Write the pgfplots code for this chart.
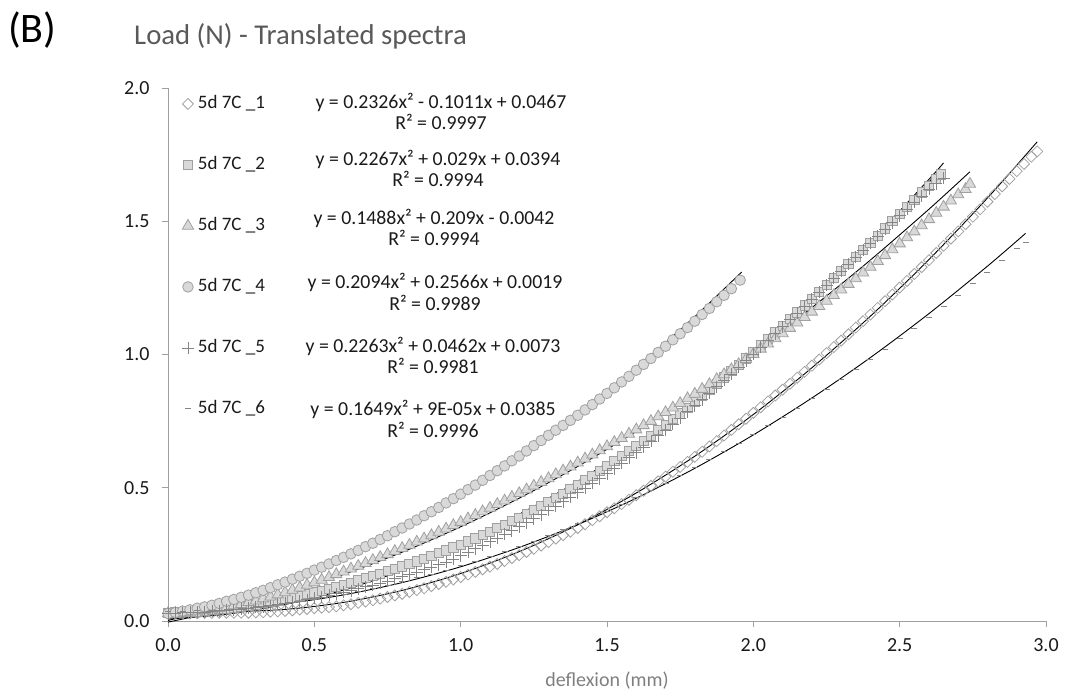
\documentclass[border=0pt]{standalone}
\usepackage{fontspec}
\setmainfont{Carlito}
\usepackage{pgfplots}
\usepackage{pgfplotstable}
\pgfplotsset{compat=1.18}
\definecolor{axgray}{HTML}{A0A0A0}
\definecolor{mkedge}{HTML}{A0A0A0}
\definecolor{mkfill}{HTML}{D9D9D9}
\definecolor{plusgray}{HTML}{858585}
\definecolor{titlegray}{HTML}{595959}
\definecolor{labgray}{HTML}{7F7F7F}
\definecolor{txt}{HTML}{1A1A1A}
\newcommand{\tfont}{\fontsize{19}{22}\selectfont}
\newcommand{\kfont}{\fontsize{20}{23}\selectfont}
\newcommand{\efont}{\fontsize{19.8}{23}\selectfont}

\pgfplotstableread{
x y
0.000 0.029
0.025 0.028
0.050 0.028
0.075 0.028
0.100 0.029
0.125 0.030
0.150 0.030
0.175 0.031
0.200 0.031
0.225 0.031
0.250 0.031
0.275 0.031
0.300 0.032
0.325 0.033
0.350 0.035
0.375 0.036
0.400 0.038
0.425 0.040
0.450 0.043
0.475 0.045
0.500 0.048
0.525 0.050
0.550 0.052
0.575 0.055
0.600 0.059
0.625 0.063
0.650 0.068
0.675 0.073
0.700 0.078
0.725 0.084
0.750 0.090
0.775 0.096
0.800 0.102
0.825 0.109
0.850 0.116
0.875 0.123
0.900 0.131
0.925 0.139
0.950 0.147
0.975 0.156
1.000 0.165
1.025 0.174
1.050 0.184
1.075 0.194
1.100 0.204
1.125 0.214
1.150 0.225
1.175 0.236
1.200 0.247
1.225 0.259
1.250 0.271
1.275 0.283
1.300 0.296
1.325 0.309
1.350 0.322
1.375 0.335
1.400 0.349
1.425 0.363
1.450 0.378
1.475 0.393
1.500 0.408
1.525 0.423
1.550 0.439
1.575 0.455
1.600 0.472
1.625 0.489
1.650 0.507
1.675 0.524
1.700 0.542
1.725 0.560
1.750 0.578
1.775 0.597
1.800 0.616
1.825 0.635
1.850 0.655
1.875 0.675
1.900 0.696
1.925 0.717
1.950 0.738
1.975 0.759
2.000 0.781
2.025 0.802
2.050 0.824
2.075 0.846
2.100 0.868
2.125 0.890
2.150 0.913
2.175 0.935
2.200 0.958
2.225 0.981
2.250 1.005
2.275 1.028
2.300 1.052
2.325 1.076
2.350 1.101
2.375 1.125
2.400 1.150
2.425 1.175
2.450 1.200
2.475 1.225
2.500 1.251
2.525 1.276
2.550 1.302
2.575 1.328
2.600 1.354
2.625 1.381
2.650 1.408
2.675 1.435
2.700 1.462
2.725 1.489
2.750 1.517
2.775 1.545
2.800 1.573
2.825 1.602
2.850 1.631
2.875 1.659
2.900 1.688
2.925 1.715
2.950 1.742
2.970 1.762
}\sA

\pgfplotstableread{
x y
0.000 0.031
0.025 0.032
0.050 0.033
0.075 0.035
0.100 0.036
0.125 0.039
0.150 0.041
0.175 0.044
0.200 0.047
0.225 0.051
0.250 0.054
0.275 0.058
0.300 0.062
0.325 0.067
0.350 0.071
0.375 0.077
0.400 0.082
0.425 0.088
0.450 0.094
0.475 0.101
0.500 0.107
0.525 0.114
0.550 0.121
0.575 0.129
0.600 0.136
0.625 0.144
0.650 0.152
0.675 0.161
0.700 0.169
0.725 0.178
0.750 0.187
0.775 0.196
0.800 0.205
0.825 0.215
0.850 0.224
0.875 0.234
0.900 0.244
0.925 0.255
0.950 0.265
0.975 0.276
1.000 0.287
1.025 0.299
1.050 0.310
1.075 0.323
1.100 0.335
1.125 0.348
1.150 0.361
1.175 0.375
1.200 0.388
1.225 0.403
1.250 0.417
1.275 0.432
1.300 0.447
1.325 0.463
1.350 0.478
1.375 0.495
1.400 0.511
1.425 0.528
1.450 0.545
1.475 0.563
1.500 0.581
1.525 0.600
1.550 0.618
1.575 0.637
1.600 0.656
1.625 0.676
1.650 0.696
1.675 0.717
1.700 0.737
1.725 0.758
1.750 0.779
1.775 0.801
1.800 0.823
1.825 0.846
1.850 0.868
1.875 0.891
1.900 0.914
1.925 0.938
1.950 0.961
1.975 0.985
2.000 1.009
2.025 1.034
2.050 1.058
2.075 1.083
2.100 1.108
2.125 1.133
2.150 1.158
2.175 1.184
2.200 1.209
2.225 1.235
2.250 1.261
2.275 1.287
2.300 1.313
2.325 1.340
2.350 1.366
2.375 1.393
2.400 1.419
2.425 1.446
2.450 1.473
2.475 1.500
2.500 1.527
2.525 1.554
2.550 1.581
2.575 1.608
2.600 1.634
2.625 1.660
2.640 1.676
}\sB

\pgfplotstableread{
x y
0.000 0.028
0.025 0.030
0.050 0.032
0.075 0.034
0.100 0.036
0.125 0.040
0.150 0.043
0.175 0.048
0.200 0.052
0.225 0.058
0.250 0.063
0.275 0.070
0.300 0.076
0.325 0.084
0.350 0.091
0.375 0.099
0.400 0.107
0.425 0.116
0.450 0.125
0.475 0.135
0.500 0.144
0.525 0.154
0.550 0.164
0.575 0.175
0.600 0.185
0.625 0.196
0.650 0.206
0.675 0.217
0.700 0.228
0.725 0.239
0.750 0.250
0.775 0.262
0.800 0.273
0.825 0.285
0.850 0.297
0.875 0.309
0.900 0.321
0.925 0.334
0.950 0.346
0.975 0.359
1.000 0.371
1.025 0.384
1.050 0.397
1.075 0.411
1.100 0.424
1.125 0.438
1.150 0.451
1.175 0.465
1.200 0.479
1.225 0.493
1.250 0.507
1.275 0.521
1.300 0.535
1.325 0.550
1.350 0.564
1.375 0.579
1.400 0.594
1.425 0.609
1.450 0.624
1.475 0.640
1.500 0.655
1.525 0.671
1.550 0.686
1.575 0.702
1.600 0.718
1.625 0.734
1.650 0.750
1.675 0.767
1.700 0.783
1.725 0.800
1.750 0.817
1.775 0.835
1.800 0.852
1.825 0.870
1.850 0.888
1.875 0.907
1.900 0.925
1.925 0.944
1.950 0.963
1.975 0.982
2.000 1.001
2.025 1.021
2.050 1.040
2.075 1.060
2.100 1.079
2.125 1.099
2.150 1.119
2.175 1.140
2.200 1.160
2.225 1.181
2.250 1.201
2.275 1.222
2.300 1.243
2.325 1.264
2.350 1.285
2.375 1.307
2.400 1.328
2.425 1.350
2.450 1.372
2.475 1.394
2.500 1.416
2.525 1.439
2.550 1.461
2.575 1.484
2.600 1.507
2.625 1.531
2.650 1.554
2.675 1.577
2.700 1.600
2.725 1.620
2.740 1.640
}\sC

\pgfplotstableread{
x y
0.000 0.028
0.025 0.032
0.050 0.037
0.075 0.042
0.100 0.048
0.125 0.053
0.150 0.059
0.175 0.066
0.200 0.074
0.225 0.081
0.250 0.089
0.275 0.097
0.300 0.106
0.325 0.115
0.350 0.125
0.375 0.136
0.400 0.146
0.425 0.157
0.450 0.168
0.475 0.179
0.500 0.191
0.525 0.202
0.550 0.214
0.575 0.227
0.600 0.239
0.625 0.252
0.650 0.265
0.675 0.279
0.700 0.292
0.725 0.306
0.750 0.320
0.775 0.335
0.800 0.349
0.825 0.364
0.850 0.379
0.875 0.395
0.900 0.410
0.925 0.426
0.950 0.443
0.975 0.459
1.000 0.476
1.025 0.493
1.050 0.510
1.075 0.528
1.100 0.546
1.125 0.564
1.150 0.582
1.175 0.601
1.200 0.619
1.225 0.638
1.250 0.658
1.275 0.677
1.300 0.697
1.325 0.716
1.350 0.734
1.375 0.753
1.400 0.772
1.425 0.792
1.450 0.812
1.475 0.833
1.500 0.854
1.525 0.875
1.550 0.897
1.575 0.918
1.600 0.941
1.625 0.963
1.650 0.985
1.675 1.008
1.700 1.031
1.725 1.055
1.750 1.078
1.775 1.101
1.800 1.125
1.825 1.150
1.850 1.173
1.875 1.198
1.900 1.222
1.925 1.247
1.955 1.279
}\sD

\pgfplotstableread{
x y
0.000 0.030
0.025 0.030
0.050 0.031
0.075 0.032
0.100 0.033
0.125 0.034
0.150 0.036
0.175 0.038
0.200 0.040
0.225 0.042
0.250 0.045
0.275 0.048
0.300 0.051
0.325 0.054
0.350 0.058
0.375 0.062
0.400 0.066
0.425 0.070
0.450 0.075
0.475 0.080
0.500 0.085
0.525 0.090
0.550 0.096
0.575 0.102
0.600 0.108
0.625 0.114
0.650 0.121
0.675 0.128
0.700 0.135
0.725 0.142
0.750 0.150
0.775 0.158
0.800 0.166
0.825 0.174
0.850 0.183
0.875 0.192
0.900 0.201
0.925 0.211
0.950 0.221
0.975 0.233
1.000 0.245
1.025 0.258
1.050 0.271
1.075 0.284
1.100 0.297
1.125 0.311
1.150 0.325
1.175 0.339
1.200 0.354
1.225 0.369
1.250 0.384
1.275 0.399
1.300 0.415
1.325 0.431
1.350 0.447
1.375 0.464
1.400 0.481
1.425 0.498
1.450 0.516
1.475 0.534
1.500 0.553
1.525 0.572
1.550 0.592
1.575 0.612
1.600 0.632
1.625 0.653
1.650 0.674
1.675 0.695
1.700 0.717
1.725 0.739
1.750 0.762
1.775 0.785
1.800 0.808
1.825 0.831
1.850 0.855
1.875 0.879
1.900 0.903
1.925 0.927
1.950 0.952
1.975 0.977
2.000 1.002
2.025 1.027
2.050 1.053
2.075 1.078
2.100 1.104
2.125 1.130
2.150 1.156
2.175 1.182
2.200 1.208
2.225 1.234
2.250 1.261
2.275 1.287
2.300 1.313
2.325 1.339
2.350 1.366
2.375 1.392
2.400 1.418
2.425 1.444
2.450 1.470
2.475 1.495
2.500 1.521
2.525 1.546
2.550 1.571
2.575 1.595
2.600 1.620
2.625 1.641
2.650 1.662
}\sE

\pgfplotstableread{
x y
0.00 0.036
0.05 0.037
0.10 0.039
0.15 0.041
0.20 0.044
0.25 0.048
0.30 0.053
0.35 0.059
0.40 0.066
0.45 0.073
0.50 0.082
0.55 0.091
0.60 0.101
0.65 0.112
0.70 0.123
0.75 0.135
0.80 0.148
0.85 0.162
0.90 0.176
0.95 0.191
1.00 0.207
1.05 0.224
1.10 0.242
1.15 0.260
1.20 0.279
1.25 0.299
1.30 0.320
1.35 0.342
1.40 0.364
1.45 0.387
1.50 0.411
1.55 0.436
1.60 0.462
1.65 0.489
1.70 0.517
1.75 0.546
1.80 0.575
1.85 0.605
1.90 0.636
1.95 0.667
2.00 0.699
2.05 0.732
2.10 0.765
2.15 0.799
2.20 0.834
2.25 0.870
2.30 0.906
2.35 0.943
2.40 0.981
2.45 1.020
2.50 1.059
2.55 1.099
2.60 1.140
2.65 1.181
2.70 1.223
2.75 1.266
2.80 1.309
2.85 1.352
2.90 1.396
2.93 1.422
}\sF

\pgfplotsset{
  lgmark/.style={legend image code/.code={\draw[##1] plot coordinates {(5pt,0pt)};}},
  trend/.style={no marks, black, line width=0.9pt, smooth, forget plot},
}

\begin{document}
\begin{tikzpicture}[x=1pt,y=1pt]
\useasboundingbox (0,0) rectangle (1065,698);
\begin{axis}[
  at={(168pt,77pt)}, anchor=south west,
  scale only axis, width=878pt, height=533pt,
  xmin=0, xmax=3, ymin=0, ymax=2,
  clip=false,
  axis x line=bottom, axis y line=left,
  axis line style={-, draw=axgray, line width=0.9pt},
  tick style={draw=axgray, line width=0.9pt},
  tick align=outside, major tick length=6pt,
  xtick={0,0.5,1,1.5,2,2.5,3}, ytick={0,0.5,1,1.5,2},
  /pgf/number format/assume math mode=true,
  xticklabel style={/pgf/number format/fixed, /pgf/number format/fixed zerofill, /pgf/number format/precision=1, font=\kfont, text=txt, yshift=-8pt},
  yticklabel style={/pgf/number format/fixed, /pgf/number format/fixed zerofill, /pgf/number format/precision=1, font=\kfont, text=txt, xshift=-9pt},
  legend style={at={(axis description cs:0.0159,0.987)}, anchor=north west,
    draw=none, fill=none, inner sep=0pt, outer sep=0pt,
    row sep=43pt, column sep=4pt, font=\tfont, text=txt,
    nodes={inner sep=0pt, text height=14pt, text depth=4pt}},
  legend cell align=left,
]
\addplot[only marks, mark=square, mark size=3.9pt, mark options={rotate=45, draw=mkedge, fill=white, line width=0.8pt}, lgmark] table {\sA};
\addlegendentry{5d 7C \_1}
\addplot[only marks, mark=square*, mark size=4.6pt, mark options={draw=mkedge, fill=mkfill, line width=0.8pt}, lgmark] table {\sB};
\addlegendentry{5d 7C \_2}
\addplot[only marks, mark=triangle*, mark size=6.5pt, mark options={draw=mkedge, fill=mkfill, line width=0.8pt}, lgmark] table {\sC};
\addlegendentry{5d 7C \_3}
\addplot[only marks, mark=*, mark size=5.3pt, mark options={draw=mkedge, fill=mkfill, line width=0.8pt}, lgmark] table {\sD};
\addlegendentry{5d 7C \_4}
\addplot[only marks, mark=+, mark size=6pt, mark options={draw=plusgray, line width=0.8pt}, lgmark] table {\sE};
\addlegendentry{5d 7C \_5}
\addplot[only marks, mark=-, mark size=3pt, mark options={draw=plusgray, line width=1pt}, lgmark] table {\sF};
\addlegendentry{5d 7C \_6}

\addplot[trend] coordinates {(0,0.0467)(0.2,0.0358)(0.4,0.0435)(0.6,0.0698)(0.8,0.1147)(1.0,0.1782)(1.2,0.2603)(1.4,0.3611)(1.6,0.4804)(1.8,0.6183)(2.0,0.7749)(2.2,0.9501)(2.4,1.1438)(2.6,1.3562)(2.8,1.5872)(2.97,1.7981)};
\addplot[trend] coordinates {(0,0.0394)(0.2,0.0543)(0.4,0.0873)(0.6,0.1384)(0.8,0.2077)(1.0,0.2951)(1.2,0.4007)(1.4,0.5243)(1.6,0.6662)(1.8,0.8261)(2.0,1.0042)(2.2,1.2004)(2.4,1.4148)(2.6,1.6473)(2.64,1.6960)};
\addplot[trend] coordinates {(0,-0.0042)(0.2,0.0436)(0.4,0.1032)(0.6,0.1748)(0.8,0.2582)(1.0,0.3536)(1.2,0.4609)(1.4,0.5800)(1.6,0.7111)(1.8,0.8541)(2.0,1.0090)(2.2,1.1758)(2.4,1.3545)(2.6,1.5451)(2.74,1.6856)};
\addplot[trend] coordinates {(0,0.0019)(0.2,0.0616)(0.4,0.1381)(0.6,0.2312)(0.8,0.3412)(1.0,0.4679)(1.2,0.6114)(1.4,0.7716)(1.6,0.9485)(1.8,1.1422)(1.96,1.3093)};
\addplot[trend] coordinates {(0,0.0073)(0.2,0.0256)(0.4,0.0620)(0.6,0.1165)(0.8,0.1891)(1.0,0.2798)(1.2,0.3886)(1.4,0.5155)(1.6,0.6606)(1.8,0.8237)(2.0,1.0049)(2.2,1.2042)(2.4,1.4217)(2.6,1.6572)(2.65,1.7190)};
\addplot[trend] coordinates {(0,0.0385)(0.2,0.0451)(0.4,0.0649)(0.6,0.0979)(0.8,0.1441)(1.0,0.2035)(1.2,0.2761)(1.4,0.3619)(1.6,0.4608)(1.8,0.5729)(2.0,0.6983)(2.2,0.8368)(2.4,0.9885)(2.6,1.1534)(2.8,1.3315)(2.93,1.4544)};
\end{axis}

% equation labels
\begin{scope}[every node/.style={font=\efont, text=txt, inner sep=0pt, anchor=base}]
\node at (441,589) {y = 0.2326x² - 0.1011x + 0.0467};
\node at (441,568) {R² = 0.9997};
\node at (438,532) {y = 0.2267x² + 0.029x + 0.0394};
\node at (438,511) {R² = 0.9994};
\node at (434,473) {y = 0.1488x² + 0.209x - 0.0042};
\node at (434,452) {R² = 0.9994};
\node at (435,409) {y = 0.2094x² + 0.2566x + 0.0019};
\node at (435,387) {R² = 0.9989};
\node at (433,345) {y = 0.2263x² + 0.0462x + 0.0073};
\node at (433,324) {R² = 0.9981};
\node at (433,282) {y = 0.1649x² + 9E-05x + 0.0385};
\node at (433,260) {R² = 0.9996};
\end{scope}

\node[font=\fontsize{20}{23}\selectfont, text=labgray, anchor=center] at (607,17) {deflexion (mm)};
\node[font=\fontsize{28.7}{32}\selectfont, text=titlegray, anchor=west, inner sep=0pt] at (134,662) {Load (N) - Translated spectra};
\node[font=\fontsize{42}{46}\selectfont, text=black, anchor=west, inner sep=0pt] at (8,668) {(B)};
\end{tikzpicture}
\end{document}
